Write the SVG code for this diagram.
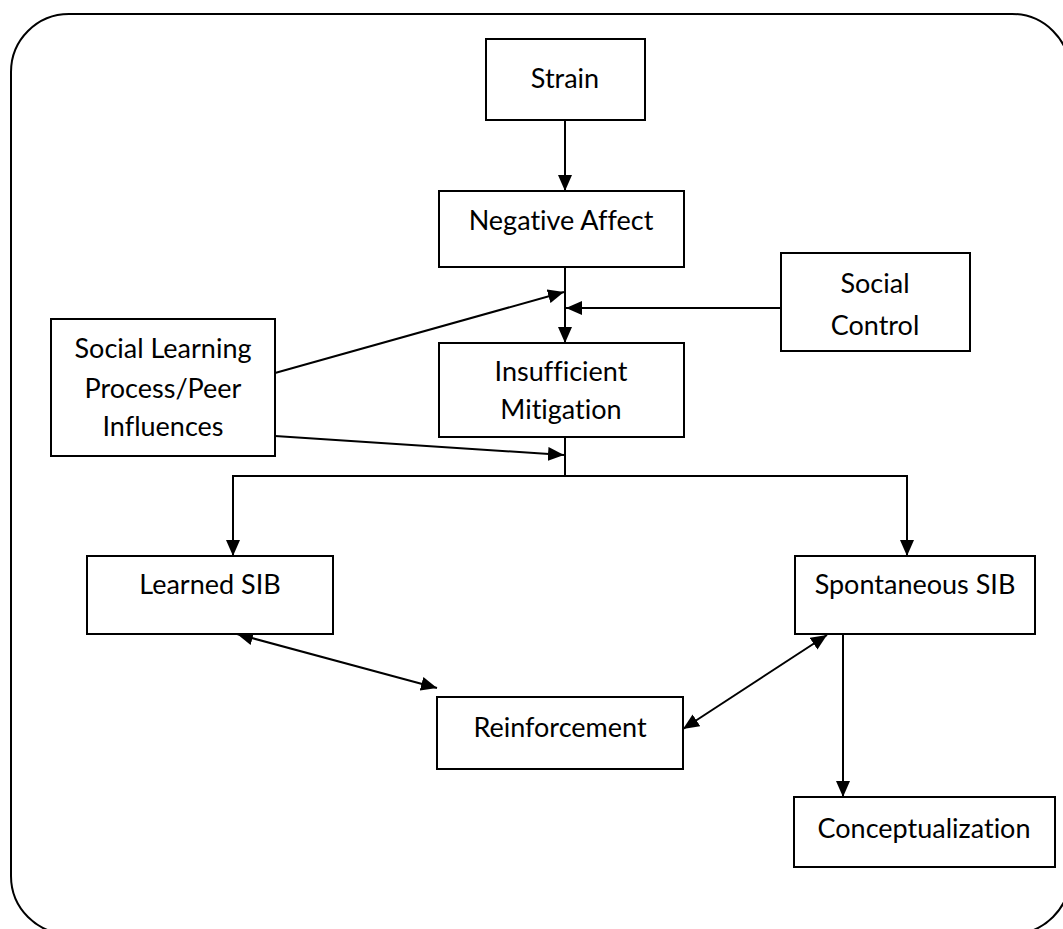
<svg xmlns="http://www.w3.org/2000/svg" width="1063" height="929" viewBox="0 0 1063 929">
<style>
.box{fill:#fff;stroke:#000;stroke-width:2}
.t{font-family:Lato,"Liberation Sans",sans-serif;font-size:27px;fill:#000;text-anchor:middle;font-variant-ligatures:none}
.c{fill:none;stroke:#000;stroke-width:2}
</style>
<defs>
<marker id="ah" markerUnits="userSpaceOnUse" viewBox="0 0 16 14" refX="16" refY="7" markerWidth="16" markerHeight="14" orient="auto-start-reverse">
<path d="M0,0 L16,7 L0,14 Z" fill="#000"/>
</marker>
</defs>
<rect x="11" y="14" width="1059" height="920" rx="58" ry="58" fill="none" stroke="#000" stroke-width="2"/>
<g id="connectors">
<line class="c" x1="565" y1="120" x2="565" y2="191" marker-end="url(#ah)"/>
<line class="c" x1="565" y1="267" x2="565" y2="343" marker-end="url(#ah)"/>
<line class="c" x1="781" y1="308" x2="566" y2="308" marker-end="url(#ah)"/>
<line class="c" x1="275" y1="373" x2="564" y2="292" marker-end="url(#ah)"/>
<line class="c" x1="275" y1="436" x2="564" y2="455" marker-end="url(#ah)"/>
<line class="c" x1="565" y1="437" x2="565" y2="476"/>
<polyline class="c" points="233,556 233,476 907,476 907,556" marker-start="url(#ah)" marker-end="url(#ah)"/>
<line class="c" x1="237" y1="634" x2="437" y2="688" marker-start="url(#ah)" marker-end="url(#ah)"/>
<line class="c" x1="827" y1="635" x2="683" y2="729" marker-start="url(#ah)" marker-end="url(#ah)"/>
<line class="c" x1="843" y1="634" x2="843" y2="797" marker-end="url(#ah)"/>
</g>
<g id="strain"><rect class="box" x="486" y="39" width="159" height="81"/><text class="t" x="565" y="88">Strain</text></g>
<g id="negative-affect"><rect class="box" x="439" y="191" width="245" height="76"/><text class="t" x="561" y="230">Negative Affect</text></g>
<g id="social-control"><rect class="box" x="781" y="253" width="189" height="98"/><text class="t" x="875" y="293">Social</text><text class="t" x="875" y="335">Control</text></g>
<g id="insufficient-mitigation"><rect class="box" x="439" y="343" width="245" height="94"/><text class="t" x="561" y="381">Insufficient</text><text class="t" x="561" y="419">Mitigation</text></g>
<g id="social-learning"><rect class="box" x="51" y="319" width="224" height="137"/><text class="t" x="163" y="358">Social Learning</text><text class="t" x="163" y="398">Process/Peer</text><text class="t" x="163" y="436">Influences</text></g>
<g id="learned-sib"><rect class="box" x="87" y="556" width="246" height="78"/><text class="t" x="210" y="594">Learned SIB</text></g>
<g id="spontaneous-sib"><rect class="box" x="795" y="556" width="240" height="78"/><text class="t" x="915" y="594">Spontaneous SIB</text></g>
<g id="reinforcement"><rect class="box" x="437" y="697" width="246" height="72"/><text class="t" x="560" y="737">Reinforcement</text></g>
<g id="conceptualization"><rect class="box" x="794" y="797" width="261" height="70"/><text class="t" x="924" y="838">Conceptualization</text></g>
</svg>
